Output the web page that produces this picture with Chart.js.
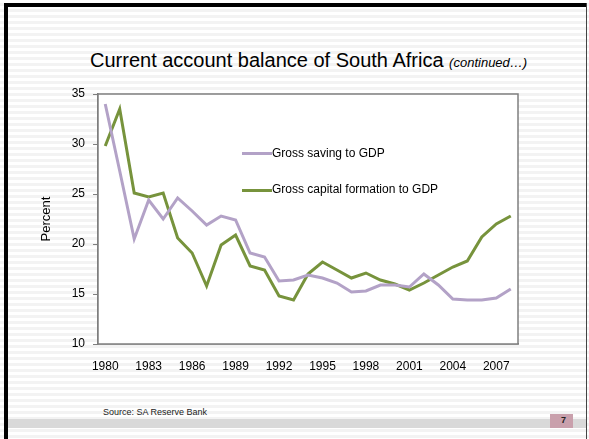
<!DOCTYPE html>
<html>
<head>
<meta charset="utf-8">
<script src="https://cdn.jsdelivr.net/npm/chart.js@4.4.0/dist/chart.umd.min.js"></script>
<style>
  html, body { margin:0; padding:0; }
  body {
    width:589px; height:439px; position:relative; overflow:hidden;
    background: repeating-linear-gradient(to bottom, #ffffff 0px, #ffffff 3px, #f3f3f3 3px, #f3f3f3 6px);
    font-family: "Liberation Sans", Arial, sans-serif;
  }
  .abs { position:absolute; }
  #frameL { left:4px; top:3px; width:4px; height:436px; background:#000; }
  #frameT { left:4px; top:3px; width:583px; height:4px; background:#000; }
  #frameR { left:586px; top:3px; width:1px; height:436px; background:#444; }
  #band { left:8px; top:419px; width:578px; height:9px; background:#d9d9d9; }
  #page { left:550px; top:414px; width:23px; height:14px; background:#c9a0ac; font-weight:bold; font-size:9px; color:#222; text-align:right; box-sizing:border-box; padding-right:7px; line-height:12px; }
  #title { left:90px; top:49px; font-size:20px; color:#000; white-space:nowrap; }
  #title i { font-size:13px; }
  #source { left:103px; top:407px; font-size:9px; color:#222; }
  .leg { font-size:12px; color:#000; white-space:nowrap; }
  .legline { height:3px; }
  canvas { position:absolute; left:0; top:0; }
</style>
</head>
<body>
<div id="frameL" class="abs"></div>
<div id="frameT" class="abs"></div>
<div id="frameR" class="abs"></div>
<div id="band" class="abs"></div>
<div id="page" class="abs">7</div>
<div id="title" class="abs">Current account balance of South Africa <i>(continued…)</i></div>
<div id="source" class="abs">Source: SA Reserve Bank</div>
<canvas id="c" width="589" height="439"></canvas>
<div class="abs legline" style="left:242px; top:152px; width:30px; background:#b3a2c7;"></div>
<div class="abs leg" style="left:272px; top:146px;">Gross saving to GDP</div>
<div class="abs legline" style="left:242px; top:189px; width:30px; background:#77933c;"></div>
<div class="abs leg" style="left:272px; top:182px;">Gross capital formation to GDP</div>
<script>
const years = ['1980','1981','1982','1983','1984','1985','1986','1987','1988','1989',
  '1990','1991','1992','1993','1994','1995','1996','1997','1998','1999',
  '2000','2001','2002','2003','2004','2005','2006','2007','2008'];
const grossSaving = [34.0, 27.3, 20.5, 24.4, 22.5, 24.6, 23.3, 21.9, 22.8, 22.4,
  19.1, 18.7, 16.3, 16.4, 16.9, 16.6, 16.1, 15.2, 15.3, 15.9,
  15.9, 15.7, 17.0, 15.9, 14.5, 14.4, 14.4, 14.6, 15.5];
const grossCapital = [29.8, 33.5, 25.1, 24.7, 25.1, 20.6, 19.1, 15.8, 19.9, 20.9,
  17.8, 17.4, 14.8, 14.4, 17.0, 18.2, 17.4, 16.6, 17.1, 16.4,
  16.0, 15.4, 16.1, 16.9, 17.7, 18.3, 20.7, 22.0, 22.8];
const yTicks = [10, 15, 20, 25, 30, 35];
const seriesNames = ['Gross saving to GDP', 'Gross capital formation to GDP'];

const axisColor = '#7f7f7f';
const areaPlugin = {
  id: 'area',
  beforeDatasetsDraw(chart) {
    const {ctx, chartArea: a} = chart;
    ctx.save();
    ctx.fillStyle = '#ffffff';
    ctx.fillRect(a.left, a.top, a.right - a.left, a.bottom - a.top);
    ctx.restore();
  },
  afterDraw(chart) {
    const {ctx, chartArea: a} = chart;
    ctx.save();
    ctx.strokeStyle = axisColor;
    ctx.lineWidth = 1.5;
    ctx.strokeRect(a.left, a.top, a.right - a.left, a.bottom - a.top);
    ctx.restore();
  }
};

new Chart(document.getElementById('c'), {
  type: 'line',
  data: {
    labels: years,
    datasets: [
      { label: seriesNames[0], data: grossSaving, borderColor: '#b3a2c7', borderWidth: 3, pointRadius: 0, tension: 0, fill: false },
      { label: seriesNames[1], data: grossCapital, borderColor: '#77933c', borderWidth: 3, pointRadius: 0, tension: 0, fill: false }
    ]
  },
  options: {
    responsive: false,
    devicePixelRatio: 1,
    animation: false,
    layout: { padding: { left: 0, top: 94, right: 71, bottom: 60 } },
    plugins: { legend: { display: false }, tooltip: { enabled: false }, title: { display: false } },
    scales: {
      x: {
        type: 'category',
        offset: true,
        afterFit(s) { s.height = 35; },
        grid: { display: true, drawOnChartArea: false, drawTicks: false },
        border: { display: true, color: axisColor, width: 1.5 },
        ticks: {
          autoSkip: false, maxRotation: 0, minRotation: 0, padding: 15,
          color: '#000', font: { family: 'Liberation Sans', size: 12 },
          callback(v, i) { return (i % 3 === 0) ? years[i] : ''; }
        }
      },
      y: {
        min: 10, max: 35,
        afterFit(s) { s.width = 98; },
        afterBuildTicks(s) { s.ticks = yTicks.map(v => ({ value: v })); },
        grid: { display: true, drawOnChartArea: false, drawTicks: true, tickLength: 5, color: axisColor, lineWidth: 1 },
        border: { display: true, color: axisColor, width: 1.5 },
        ticks: { padding: 8, color: '#000', font: { family: 'Liberation Sans', size: 12 } },
        title: { display: true, text: 'Percent', color: '#000', font: { family: 'Liberation Sans', size: 13 }, padding: { top: 39, bottom: 0 } }
      }
    }
  },
  plugins: [areaPlugin]
});
</script>
</body>
</html>
